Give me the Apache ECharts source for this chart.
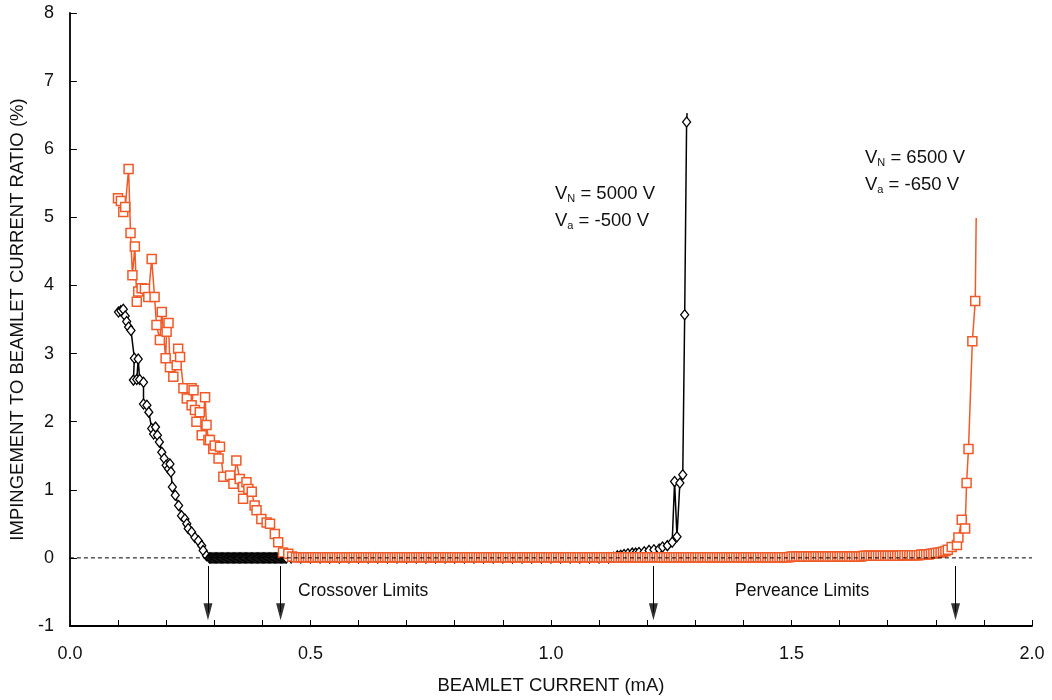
<!DOCTYPE html>
<html>
<head>
<meta charset="utf-8">
<title>Impingement vs beamlet current</title>
<script src="https://cdn.jsdelivr.net/npm/echarts@6/dist/echarts.min.js"></script>
<style>
  html, body { margin: 0; padding: 0; background: #fff; }
  #chart { width: 1052px; height: 700px; }
</style>
</head>
<body>
<div id="chart"></div>
<script>
// V_N = 5000 V, V_a = -500 V  (black diamonds)  [beamlet current mA, impingement %]
const vn5000 = [
  [0.101, 3.61], [0.106, 3.63], [0.111, 3.65], [0.115, 3.55], [0.118, 3.47], [0.122, 3.39], [0.127, 3.34],
  [0.134, 2.93], [0.132, 2.61], [0.139, 2.62], [0.142, 2.92], [0.145, 2.62], [0.153, 2.58], [0.153, 2.26],
  [0.160, 2.24], [0.164, 2.14], [0.170, 1.90], [0.174, 1.82], [0.178, 1.92], [0.182, 1.80], [0.186, 1.70],
  [0.191, 1.55], [0.196, 1.46], [0.200, 1.36], [0.205, 1.31], [0.208, 1.38], [0.210, 1.26], [0.213, 1.04],
  [0.219, 0.92], [0.226, 0.77], [0.232, 0.62], [0.239, 0.57], [0.243, 0.50], [0.246, 0.43], [0.253, 0.38],
  [0.260, 0.30], [0.267, 0.25], [0.274, 0.18], [0.277, 0.11], [0.284, 0.03],
  [0.2900, 0], [0.2925, 0], [0.2950, 0], [0.2975, 0], [0.3000, 0], [0.3025, 0], [0.3050, 0], [0.3075, 0],
  [0.3100, 0], [0.3125, 0], [0.3150, 0], [0.3175, 0], [0.3200, 0], [0.3225, 0], [0.3250, 0], [0.3275, 0],
  [0.3300, 0], [0.3325, 0], [0.3350, 0], [0.3375, 0], [0.3400, 0], [0.3425, 0], [0.3450, 0], [0.3475, 0],
  [0.3500, 0], [0.3525, 0], [0.3550, 0], [0.3575, 0], [0.3600, 0], [0.3625, 0], [0.3650, 0], [0.3675, 0],
  [0.3700, 0], [0.3725, 0], [0.3750, 0], [0.3775, 0], [0.3800, 0], [0.3825, 0], [0.3850, 0], [0.3875, 0],
  [0.3900, 0], [0.3925, 0], [0.3950, 0], [0.3975, 0], [0.4000, 0], [0.4025, 0], [0.4050, 0], [0.4075, 0],
  [0.4100, 0], [0.4125, 0], [0.4150, 0], [0.4175, 0], [0.4200, 0], [0.4225, 0], [0.4250, 0], [0.4275, 0],
  [0.4300, 0], [0.4325, 0], [0.4350, 0], [0.4375, 0], [0.4400, 0], [0.4425, 0], [0.4450, 0], [0.4475, 0],
  [0.4500, 0],
  [0.46, 0], [0.48, 0], [0.50, 0], [0.52, 0], [0.54, 0], [0.56, 0], [0.58, 0], [0.60, 0], [0.62, 0], [0.64, 0],
  [0.66, 0], [0.68, 0], [0.70, 0], [0.72, 0], [0.74, 0], [0.76, 0], [0.78, 0], [0.80, 0], [0.82, 0], [0.84, 0],
  [0.86, 0], [0.88, 0], [0.90, 0], [0.92, 0], [0.94, 0], [0.96, 0], [0.98, 0], [1.00, 0], [1.02, 0], [1.04, 0],
  [1.06, 0], [1.08, 0], [1.10, 0], [1.12, 0],
  [1.130, 0.01], [1.138, 0.03], [1.145, 0.04], [1.152, 0.05], [1.160, 0.06], [1.169, 0.07], [1.176, 0.07],
  [1.183, 0.08], [1.194, 0.09], [1.204, 0.11], [1.214, 0.12], [1.225, 0.13], [1.232, 0.16], [1.242, 0.18],
  [1.252, 0.23], [1.257, 1.12], [1.262, 0.31], [1.268, 1.10], [1.274, 1.22], [1.278, 3.57], [1.282, 6.40],
  { value: [1.283, 6.53], symbol: 'none' }
];

// V_N = 6500 V, V_a = -650 V  (orange squares)
const vn6500 = [
  [0.100, 5.28], [0.106, 5.24], [0.111, 5.08], [0.115, 5.15], [0.122, 5.71], [0.126, 4.77], [0.130, 4.15],
  [0.135, 4.57], [0.139, 3.76], [0.142, 3.91], [0.149, 3.96], [0.156, 3.95], [0.163, 3.83], [0.170, 4.39],
  [0.176, 3.83], [0.180, 3.42], [0.187, 3.20], [0.191, 3.61], [0.199, 2.93], [0.201, 3.32], [0.205, 3.45],
  [0.208, 2.80], [0.215, 2.66], [0.222, 2.83], [0.225, 3.07], [0.229, 2.95], [0.236, 2.49], [0.243, 2.34],
  [0.253, 2.49], [0.257, 2.46], [0.253, 2.24], [0.260, 2.17], [0.263, 2.00], [0.270, 2.14], [0.274, 1.80],
  [0.281, 2.36], [0.284, 1.95], [0.288, 1.73], [0.291, 1.73], [0.298, 1.60], [0.301, 1.65], [0.309, 1.46],
  [0.312, 1.63], [0.319, 1.19], [0.333, 1.21], [0.340, 1.09], [0.346, 1.43], [0.353, 1.16], [0.360, 1.04],
  [0.367, 1.11], [0.360, 0.87], [0.371, 1.01], [0.378, 0.97], [0.384, 0.77], [0.388, 0.70], [0.398, 0.57],
  [0.409, 0.52], [0.416, 0.50], [0.426, 0.35], [0.433, 0.23], [0.443, 0.08], [0.454, 0.06], [0.462, 0.02],
  [0.470, .01], [0.475, .01], [0.480, .01], [0.485, .01], [0.490, .01], [0.495, .01], [0.500, .01], [0.505, .01], [0.510, .01], [0.515, .01],
  [0.520, .01], [0.525, .01], [0.530, .01], [0.535, .01], [0.540, .01], [0.545, .01], [0.550, .01], [0.555, .01], [0.560, .01], [0.565, .01],
  [0.570, .01], [0.575, .01], [0.580, .01], [0.585, .01], [0.590, .01], [0.595, .01], [0.600, .01], [0.605, .01], [0.610, .01], [0.615, .01],
  [0.620, .01], [0.625, .01], [0.630, .01], [0.635, .01], [0.640, .01], [0.645, .01], [0.650, .01], [0.655, .01], [0.660, .01], [0.665, .01],
  [0.670, .01], [0.675, .01], [0.680, .01], [0.685, .01], [0.690, .01], [0.695, .01], [0.700, .01], [0.705, .01], [0.710, .01], [0.715, .01],
  [0.720, .01], [0.725, .01], [0.730, .01], [0.735, .01], [0.740, .01], [0.745, .01], [0.750, .01], [0.755, .01], [0.760, .01], [0.765, .01],
  [0.770, .01], [0.775, .01], [0.780, .01], [0.785, .01], [0.790, .01], [0.795, .01], [0.800, .01], [0.805, .01], [0.810, .01], [0.815, .01],
  [0.820, .01], [0.825, .01], [0.830, .01], [0.835, .01], [0.840, .01], [0.845, .01], [0.850, .01], [0.855, .01], [0.860, .01], [0.865, .01],
  [0.870, .01], [0.875, .01], [0.880, .01], [0.885, .01], [0.890, .01], [0.895, .01], [0.900, .01], [0.905, .01], [0.910, .01], [0.915, .01],
  [0.920, .01], [0.925, .01], [0.930, .01], [0.935, .01], [0.940, .01], [0.945, .01], [0.950, .01], [0.955, .01], [0.960, .01], [0.965, .01],
  [0.970, .01], [0.975, .01], [0.980, .01], [0.985, .01], [0.990, .01], [0.995, .01], [1.000, .01], [1.005, .01], [1.010, .01], [1.015, .01],
  [1.020, .01], [1.025, .01], [1.030, .01], [1.035, .01], [1.040, .01], [1.045, .01], [1.050, .01], [1.055, .01], [1.060, .01], [1.065, .01],
  [1.070, .01], [1.075, .01], [1.080, .01], [1.085, .01], [1.090, .01], [1.095, .01], [1.100, .01], [1.105, .01], [1.110, .01], [1.115, .01],
  [1.120, .01], [1.125, .01], [1.130, .01], [1.135, .01], [1.140, .01], [1.145, .01], [1.150, .01], [1.155, .01], [1.160, .01], [1.165, .01],
  [1.170, .01], [1.175, .01], [1.180, .01], [1.185, .01], [1.190, .01], [1.195, .01], [1.200, .01], [1.205, .01], [1.210, .01], [1.215, .01],
  [1.220, .01], [1.225, .01], [1.230, .01], [1.235, .01], [1.240, .01], [1.245, .01], [1.250, .01], [1.255, .01], [1.260, .01], [1.265, .01],
  [1.270, .01], [1.275, .01], [1.280, .01], [1.285, .01], [1.290, .01], [1.295, .01], [1.300, .01], [1.305, .01], [1.310, .01], [1.315, .01],
  [1.320, .01], [1.325, .01], [1.330, .01], [1.335, .01], [1.340, .01], [1.345, .01], [1.350, .01], [1.355, .01], [1.360, .01], [1.365, .01],
  [1.370, .01], [1.375, .01], [1.380, .01], [1.385, .01], [1.390, .01], [1.395, .01], [1.400, .01], [1.405, .01], [1.410, .01], [1.415, .01],
  [1.420, .01], [1.425, .01], [1.430, .01], [1.435, .01], [1.440, .01], [1.445, .01], [1.450, .01], [1.455, .01], [1.460, .01], [1.465, .01],
  [1.470, .01], [1.475, .01], [1.480, .01], [1.485, .01], [1.490, .01], [1.495, .01], [1.500, .02], [1.505, .02], [1.510, .02], [1.515, .02],
  [1.520, .02], [1.525, .02], [1.530, .02], [1.535, .02], [1.540, .02], [1.545, .02], [1.550, .02], [1.555, .02], [1.560, .02], [1.565, .02],
  [1.570, .02], [1.575, .02], [1.580, .02], [1.585, .02], [1.590, .02], [1.595, .02], [1.600, .02], [1.605, .02], [1.610, .02], [1.615, .02],
  [1.620, .02], [1.625, .02], [1.630, .02], [1.635, .02], [1.640, .02], [1.645, .02], [1.650, .03], [1.655, .03], [1.660, .03], [1.665, .03],
  [1.670, .03], [1.675, .03], [1.680, .03], [1.685, .03], [1.690, .03], [1.695, .03], [1.700, .03], [1.705, .03], [1.710, .03], [1.715, .03],
  [1.720, .03], [1.725, .03], [1.730, .04], [1.735, .04], [1.740, .04], [1.745, .04], [1.750, .04], [1.755, .04], [1.760, .04], [1.765, .04],
  [1.770, .05], [1.775, .05], [1.780, .05], [1.785, .05], [1.790, .06], [1.795, .065], [1.800, .07], [1.805, .075], [1.810, .08], [1.815, .09],
  [1.820, .10], [1.825, .12],
  [1.833, 0.16], [1.844, 0.19], [1.847, 0.30], [1.854, 0.56], [1.861, 0.43], [1.864, 1.10], [1.868, 1.60],
  [1.876, 3.18], [1.882, 3.77],
  { value: [1.884, 4.99], symbol: 'none' }
];

// crossover / perveance limits marked with arrows
const limitArrowsX = [0.287, 0.438, 1.213, 1.841];

const FONT = "'Liberation Sans', Arial, sans-serif";
const ORANGE = '#f05a28';

const chart = echarts.init(document.getElementById('chart'));

const option = {
    animation: false,
    backgroundColor: '#fff',
    textStyle: { fontFamily: FONT },
    grid: { left: 68, right: 20, top: 13, bottom: 72 },
    xAxis: {
        type: 'value',
        min: 0,
        max: 2,
        interval: 0.5,
        name: 'BEAMLET CURRENT (mA)',
        nameLocation: 'middle',
        nameGap: 50,
        nameTextStyle: { fontSize: 18.5, color: '#111', fontFamily: FONT },
        axisLine: { onZero: false, lineStyle: { color: '#000', width: 1.8 } },
        axisTick: { inside: true, length: 6, lineStyle: { color: '#000', width: 1 } },
        minorTick: { show: true, splitNumber: 5, length: 6, lineStyle: { color: '#000', width: 1 } },
        splitLine: { show: false },
        axisLabel: {
            fontSize: 18, color: '#111', margin: 19, fontFamily: FONT,
            formatter: v => v.toFixed(1)
        }
    },
    yAxis: {
        type: 'value',
        min: -1,
        max: 8,
        interval: 1,
        name: 'IMPINGEMENT TO BEAMLET CURRENT RATIO (%)',
        nameLocation: 'middle',
        nameGap: 40,
        nameTextStyle: { fontSize: 18.5, color: '#111', fontFamily: FONT },
        axisLine: { show: true, onZero: false, lineStyle: { color: '#000', width: 1.8 } },
        axisTick: { show: true, inside: true, length: 7, lineStyle: { color: '#000', width: 1 } },
        splitLine: { show: false },
        axisLabel: { fontSize: 18, color: '#111', margin: 16, fontFamily: FONT }
    },
    series: [
        {
            name: 'VN 5000',
            type: 'line',
            data: vn5000,
            z: 2,
            showAllSymbol: true,
            symbol: 'diamond',
            symbolSize: [8, 10],
            itemStyle: { color: '#fff', borderColor: '#000', borderWidth: 1.3 },
            lineStyle: { color: '#000', width: 1.5 },
            emphasis: { disabled: true }
        },
        {
            name: 'VN 6500',
            type: 'line',
            data: vn6500,
            z: 3,
            showAllSymbol: true,
            symbol: 'rect',
            symbolSize: 9,
            itemStyle: { color: '#fff', borderColor: ORANGE, borderWidth: 1.5 },
            lineStyle: { color: ORANGE, width: 1.5 },
            emphasis: { disabled: true }
        },
        {
            // dashed zero reference + limit arrows
            name: 'zero',
            type: 'line',
            data: [[0, 0], [2, 0]],
            z: 5,
            symbol: 'none',
            lineStyle: { color: '#000', width: 1, type: [4, 3] },
            emphasis: { disabled: true },
            markLine: {
                silent: true,
                symbol: ['none', 'none'],
                label: { show: false },
                lineStyle: { color: '#000', width: 1, type: 'solid' },
                data: limitArrowsX.map(x => [{ coord: [x, -0.12] }, { coord: [x, -0.8] }])
            }
        },
        {
            name: 'arrow heads',
            type: 'scatter',
            data: limitArrowsX.map(x => [x, -0.79]),
            z: 5,
            symbol: 'path://M0,0 L8,0 L4,16 Z',
            symbolSize: [9, 17],
            itemStyle: { color: '#000' },
            emphasis: { disabled: true }
        }
    ],
    graphic: [
        {
            type: 'text', left: 298, top: 582,
            style: { text: 'Crossover Limits', fontSize: 17.5, fill: '#111', fontFamily: FONT }
        },
        {
            type: 'text', left: 735, top: 582,
            style: { text: 'Perveance Limits', fontSize: 17.5, fill: '#111', fontFamily: FONT }
        },
        {
            type: 'text', left: 555, top: 184,
            style: {
                text: '{v|V}{s|N}{v| = 5000 V}\n{v|V}{s|a}{v| = -500 V}',
                fill: '#111',
                rich: {
                    v: { fontSize: 18.5, lineHeight: 27, fontFamily: FONT, fill: '#111' },
                    s: { fontSize: 11, lineHeight: 27, fontFamily: FONT, fill: '#111', padding: [9, 0, 0, 0] }
                }
            }
        },
        {
            type: 'text', left: 865, top: 148,
            style: {
                text: '{v|V}{s|N}{v| = 6500 V}\n{v|V}{s|a}{v| = -650 V}',
                fill: '#111',
                rich: {
                    v: { fontSize: 18.5, lineHeight: 27, fontFamily: FONT, fill: '#111' },
                    s: { fontSize: 11, lineHeight: 27, fontFamily: FONT, fill: '#111', padding: [9, 0, 0, 0] }
                }
            }
        }
    ]
};

chart.setOption(option);
</script>
</body>
</html>
